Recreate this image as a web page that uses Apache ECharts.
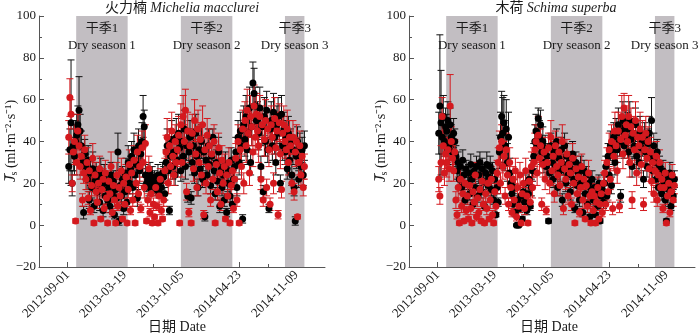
<!DOCTYPE html>
<html>
<head>
<meta charset="utf-8">
<script src="https://cdn.jsdelivr.net/npm/echarts@6/dist/echarts.min.js"></script>
<style>html,body{margin:0;padding:0;background:#fff}#c{width:700px;height:334px}</style>
</head>
<body>
<div id="c"></div>
<script>
// ---- data (x = days since 2012-09-01, one sample every 4 days from day 4) ----
const startDay = 4, stepDays = 4;
const tickDays = [0, 200, 400, 600, 800];
const tickLabels = ['2012-09-01', '2013-03-19', '2013-10-05', '2014-04-23', '2014-11-09'];
const minorTickDays = [100, 300, 500, 700];
const bandStart = [30, 396, 760];
const bandEnd = [210, 576, 828];
const bandCn = ['干季1', '干季2', '干季3'];
const bandEn = ['Dry season 1', 'Dry season 2', 'Dry season 3'];
const panelCn = ['火力楠', '木荷'];
const panelLatin = ['Michelia macclurei', 'Schima superba'];
const xAxisTitle = '日期 Date';

// 火力楠 Michelia macclurei – black series
const leftBlack = [28,36,49,20,38,33,40,
 43,48,55,45,38,30,6,34,
 28,22,31,12,25,18,27,9,21,24,
 16,22,11,25,19,7,23,14,20,12,
 18,9,24,15,21,5,17,13,35,2,
 19,14,22,8,16,25,11,30,20,27,
 33,18,36,24,29,13,38,26,34,40,
 52,47,24,20,22,18,25,21,23,19,
 22,17,20,24,16,21,18,25,23,15,
 30,38,26,7,33,41,28,35,24,42,
 31,44,37,26,40,33,46,28,38,14,
 35,42,13,30,38,25,44,33,18,36,
 27,40,22,35,4,31,24,38,29,19,
 33,42,26,15,30,21,35,9,27,18,
 24,12,29,6,20,26,14,31,10,22,
 28,35,18,42,30,45,38,3,48,41,
 52,36,44,56,30,47,68,63,57,50,
 50,44,56,28,47,16,52,40,55,36,
 8,46,50,38,54,42,30,48,52,44,
 20,53,38,46,35,42,27,44,31,39,
 24,36,18,2,33,40,22,37,28,36,
 24,38];
const leftBlackErr = [8,10,30,6,12,9,10,
 10,9,16,8,7,6,3,7,
 6,5,7,4,6,5,8,3,5,6,
 5,6,4,7,5,3,6,4,5,4,
 5,3,6,4,5,2,5,4,9,2,
 5,4,6,3,5,7,4,8,5,6,
 7,5,8,6,6,4,8,6,7,9,
 10,8,5,4,5,4,5,4,5,4,
 4,3,4,5,3,4,4,5,5,3,
 6,8,5,2,7,9,6,7,5,9,
 6,9,8,5,8,6,9,6,7,3,
 7,8,3,6,8,5,9,7,4,7,
 5,8,4,7,2,6,5,8,6,4,
 6,4,5,3,6,4,7,3,5,4,
 5,3,6,2,4,5,3,6,3,4,
 5,7,4,8,6,9,7,2,9,8,
 10,7,9,10,6,9,10,12,9,8,
 9,8,10,5,9,3,9,7,9,6,
 2,8,9,7,9,8,6,9,9,8,
 4,9,7,8,6,8,5,8,6,7,
 5,7,4,2,6,7,4,7,5,6,
 5,7];
// 火力楠 Michelia macclurei – red series
const leftRed = [42,61,53,20,35,40,2,
 30,45,38,28,33,12,25,36,
 22,30,13,26,7,19,32,1,24,16,
 11,20,27,3,17,22,8,25,13,1,
 21,15,28,6,19,12,1,24,9,18,
 14,26,3,20,10,23,1,17,29,7,
 25,12,31,1,20,35,15,28,8,37,
 30,18,39,2,12,27,6,15,1,10,
 4,18,9,1,14,22,7,3,12,26,
 35,42,20,38,28,45,33,24,40,30,
 36,43,1,48,30,52,40,55,16,45,
 6,38,1,44,27,50,34,18,46,30,
 41,24,48,5,36,20,43,28,38,12,
 34,22,40,1,29,16,37,25,10,31,
 20,28,3,24,14,30,1,19,26,8,
 22,32,12,40,1,36,28,46,20,50,
 38,55,44,25,52,47,35,57,42,53,
 45,38,52,22,48,12,41,50,18,46,
 36,10,48,42,20,51,37,45,5,49,
 34,17,44,48,40,36,46,30,42,38,
 20,42,16,35,40,4,30,38,24,33,
 18,28];
const leftRedErr = [8,9,7,4,6,8,1,
 6,8,7,6,6,3,5,7,
 5,7,3,6,2,5,7,1,6,4,
 3,5,6,1,4,5,2,6,3,1,
 5,4,7,2,5,3,1,6,2,4,
 3,6,1,5,3,6,1,4,7,2,
 6,3,7,1,5,8,4,7,2,8,
 7,5,9,1,3,6,2,4,1,3,
 1,4,2,1,4,5,2,1,3,6,
 8,9,5,8,6,9,7,5,8,7,
 8,9,1,10,7,10,8,10,4,9,
 2,8,1,9,6,10,7,4,9,7,
 8,5,9,2,7,5,8,6,8,3,
 7,5,8,1,6,4,7,6,3,7,
 5,6,1,5,3,7,1,5,6,2,
 5,7,3,8,1,8,6,9,5,9,
 8,10,9,6,10,9,7,10,8,10,
 9,8,10,5,9,3,8,10,4,9,
 8,3,9,8,5,10,8,9,2,9,
 7,4,8,9,8,7,9,6,8,7,
 5,8,4,7,8,1,6,7,5,6,
 4,6];
// 木荷 Schima superba – black series
const rightBlack = [44,57,49,42,52,40,47,
 45,50,38,48,42,35,44,40,
 33,26,30,22,28,18,31,24,12,27,
 20,25,15,29,22,10,26,18,28,14,
 24,30,16,27,21,9,25,29,19,23,
 28,17,26,12,22,5,18,11,35,42,
 52,44,49,38,46,30,42,25,20,15,
 10,18,6,0,12,0,8,14,3,16,
 11,20,7,15,22,9,18,26,33,40,
 45,38,51,42,48,35,40,30,37,28,
 33,2,25,38,30,22,35,28,40,18,
 32,26,36,12,29,38,20,33,24,30,
 16,27,34,22,8,30,19,25,12,28,
 21,6,26,15,24,10,20,4,17,22,
 12,18,5,15,9,20,2,14,17,11,
 20,28,14,33,24,38,19,35,42,30,
 44,36,48,40,14,45,50,38,47,42,
 46,35,50,41,28,44,38,48,33,43,
 30,45,37,40,22,42,35,28,39,44,
 32,50,26,38,30,22,35,18,28,24,
 15,26,20,12,2,22,17,25,9,20,
 14,22];
const rightBlackErr = [10,34,25,8,10,7,9,
 8,9,7,8,6,6,7,6,
 5,4,5,3,4,3,5,4,2,4,
 3,4,3,5,4,2,4,3,5,3,
 4,5,3,5,4,2,4,6,3,4,
 5,3,4,2,4,1,3,2,8,12,
 12,17,13,12,14,9,12,7,5,4,
 3,4,2,0.5,3,0.5,2,3,1,4,
 3,4,2,3,4,2,4,5,6,8,
 8,7,5,8,7,6,7,5,6,5,
 6,1,5,6,5,4,6,5,6,4,
 5,5,6,3,5,6,4,6,4,5,
 4,5,6,4,2,5,4,5,3,5,
 4,2,5,3,4,2,4,1,3,4,
 3,4,1,3,2,4,1,3,4,3,
 4,5,3,6,5,7,4,6,7,6,
 7,6,8,7,3,7,9,6,8,7,
 8,6,9,7,5,7,6,8,6,7,
 5,7,6,7,4,7,6,5,7,8,
 6,11,5,6,5,4,6,3,5,4,
 3,5,4,3,1,4,3,5,2,4,
 3,4];
// 木荷 Schima superba – red series
const rightRed = [22,14,30,52,38,25,34,
 30,36,27,57,40,32,26,35,
 12,5,18,1,22,9,15,2,20,7,
 14,3,19,8,1,16,11,24,4,13,
 6,17,2,21,10,1,15,8,20,3,
 12,22,5,1,16,9,25,30,37,20,
 40,28,33,14,36,24,10,30,18,6,
 22,12,26,4,18,9,24,1,15,20,
 8,26,14,1,21,11,28,18,30,36,
 40,25,43,32,38,10,29,35,22,7,
 30,37,20,42,26,33,15,38,28,24,
 35,19,30,40,8,27,22,34,14,29,
 25,10,32,20,1,27,15,23,6,18,
 28,12,22,3,19,9,25,14,1,16,
 7,14,1,11,18,3,10,15,6,20,
 25,10,30,16,36,22,40,8,33,45,
 38,26,45,9,41,52,34,56,43,48,
 40,52,30,47,12,44,36,50,25,42,
 38,46,29,42,10,36,44,32,40,27,
 35,21,30,15,26,33,12,24,30,18,
 22,8,18,25,1,14,20,6,16,24,
 12,19];
const rightRedErr = [6,4,8,9,7,6,7,
 7,6,6,15,7,6,5,6,
 4,2,5,1,5,3,4,1,5,2,
 4,1,5,3,1,4,3,6,2,4,
 2,5,1,5,3,1,4,3,5,1,
 4,6,2,1,4,3,6,7,8,5,
 8,6,7,4,8,6,3,7,5,2,
 6,4,6,2,5,3,6,1,4,5,
 3,6,4,1,5,3,7,5,7,8,
 8,6,9,7,8,3,6,7,5,2,
 6,7,5,8,6,7,4,7,6,5,
 7,5,6,8,3,6,5,7,4,6,
 6,3,7,5,1,6,4,5,2,5,
 6,4,5,1,5,3,6,4,1,4,
 2,4,1,3,5,1,3,4,2,5,
 6,3,7,4,8,5,8,3,7,9,
 8,6,9,3,8,10,7,7,8,9,
 8,10,7,9,4,8,7,9,6,8,
 7,8,6,8,3,7,8,6,7,6,
 7,5,6,4,6,7,3,5,6,4,
 5,2,4,5,1,4,5,2,4,5,
 3,4];

// ---- chart ----
const SERIF = '"Liberation Serif","Times New Roman","Noto Sans CJK SC",serif';
const TXT = '#1a1a1a';
const BLACK = '#000000', RED = '#d4191e', BAND = '#c2bec2', AXIS = '#555555';
const grids = [
  { left: 39, right: 375, top: 16, bottom: 67 },
  { left: 409, right: 5, top: 16, bottom: 67 }
];
const titleX = [182, 556];
const yNameX = [11, 381];
const xNameX = [177, 549];

function tuples(vals, errs) {
  const out = [];
  const n = Math.min(vals.length, errs.length);
  for (let i = 0; i < n; i++) out.push([startDay + i * stepDays, vals[i], errs[i]]);
  return out;
}
function errBarSeries(idx, data, color) {
  return {
    type: 'custom', xAxisIndex: idx * 2, yAxisIndex: idx, z: 3, silent: true,
    data: data, encode: { x: 0, y: 1 },
    renderItem: function (params, api) {
      const x = api.value(0), y = api.value(1), e = api.value(2);
      const t = api.coord([x, y + e]), b = api.coord([x, y - e]);
      const cw = 3.5;
      const st = { stroke: color, lineWidth: 1 };
      return { type: 'group', children: [
        { type: 'line', shape: { x1: t[0], y1: t[1], x2: b[0], y2: b[1] }, style: st },
        { type: 'line', shape: { x1: t[0] - cw, y1: t[1], x2: t[0] + cw, y2: t[1] }, style: st },
        { type: 'line', shape: { x1: b[0] - cw, y1: b[1], x2: b[0] + cw, y2: b[1] }, style: st }
      ]};
    }
  };
}
function pointSeries(idx, data, color) {
  return {
    type: 'scatter', xAxisIndex: idx * 2, yAxisIndex: idx, z: 4, silent: true,
    data: data.map(d => [d[0], d[1]]), symbol: 'circle', symbolSize: 7,
    itemStyle: { color: color, opacity: 1 }, emphasis: { disabled: true }
  };
}
function bandSeries(idx) {
  return {
    type: 'scatter', xAxisIndex: idx * 2, yAxisIndex: idx, z: 1, data: [], silent: true,
    markArea: {
      silent: true,
      itemStyle: { color: BAND, opacity: 1 },
      label: {
        show: true, position: 'insideTop', distance: 4, color: TXT,
        fontFamily: SERIF, fontSize: 13, lineHeight: 17, align: 'center'
      },
      data: bandStart.map((s, i) => [
        { xAxis: s, yAxis: 100, name: bandCn[i] + '\n' + bandEn[i] },
        { xAxis: bandEnd[i], yAxis: -20 }
      ])
    }
  };
}
const xAxes = [], yAxes = [];
for (let g = 0; g < 2; g++) {
  xAxes.push({
    type: 'value', gridIndex: g, min: -100, max: 900,
    axisLine: { show: true, onZero: false, lineStyle: { color: AXIS, width: 1 } },
    axisTick: { show: true, inside: true, length: 5, customValues: tickDays, lineStyle: { color: AXIS } },
    axisLabel: {
      show: true, customValues: tickDays, rotate: 45, margin: 6,
      fontFamily: SERIF, fontSize: 13, color: TXT,
      formatter: v => tickLabels[tickDays.indexOf(v)] || ''
    },
    splitLine: { show: false }
  });
  xAxes.push({
    type: 'value', gridIndex: g, min: -100, max: 900, position: 'bottom',
    axisLine: { show: false, onZero: false },
    axisTick: { show: true, inside: true, length: 3, customValues: minorTickDays, lineStyle: { color: AXIS } },
    axisLabel: { show: false }, splitLine: { show: false }
  });
  yAxes.push({
    type: 'value', gridIndex: g, min: -20, max: 100, interval: 20,
    axisLine: { show: true, onZero: false, lineStyle: { color: AXIS, width: 1 } },
    axisTick: { show: true, inside: true, length: 5, lineStyle: { color: AXIS } },
    minorTick: { show: true, splitNumber: 2, length: 3, lineStyle: { color: AXIS } },
    axisLabel: { fontFamily: SERIF, fontSize: 13, color: TXT, margin: 3,
      formatter: v => (v < 0 ? '\u2212' + Math.abs(v) : String(v)) },
    splitLine: { show: false }
  });
}
const panels = [
  [tuples(leftBlack, leftBlackErr), tuples(leftRed, leftRedErr)],
  [tuples(rightBlack, rightBlackErr), tuples(rightRed, rightRedErr)]
];
const series = [];
for (let g = 0; g < 2; g++) {
  series.push(bandSeries(g));
  series.push(errBarSeries(g, panels[g][0], '#111111'));
  series.push(pointSeries(g, panels[g][0], BLACK));
  series.push(errBarSeries(g, panels[g][1], RED));
  series.push(pointSeries(g, panels[g][1], RED));
}
const graphics = [];
titleX.forEach((x, i) => graphics.push({
  type: 'text', x: x, y: 8, silent: true,
  style: {
    text: '{c|' + panelCn[i] + '} {l|' + panelLatin[i] + '}',
    align: 'center', verticalAlign: 'middle',
    rich: {
      c: { fontFamily: SERIF, fontSize: 14, fill: TXT },
      l: { fontFamily: SERIF, fontSize: 14, fontStyle: 'italic', fill: TXT }
    }
  }
}));
yNameX.forEach(x => graphics.push({
  type: 'text', x: x, y: 141, rotation: Math.PI / 2, silent: true,
  style: {
    text: '{j|J\u0305}{s|s}{u| (ml·m\u207B\u00B2·s\u207B\u00B9)}',
    align: 'center', verticalAlign: 'middle',
    rich: {
      j: { fontFamily: SERIF, fontStyle: 'italic', fontSize: 15, fill: TXT, lineHeight: 17, verticalAlign: 'middle' },
      s: { fontFamily: SERIF, fontSize: 10, fill: TXT, lineHeight: 17, verticalAlign: 'bottom' },
      u: { fontFamily: SERIF, fontSize: 14, fill: TXT, lineHeight: 17, verticalAlign: 'middle' }
    }
  }
}));
xNameX.forEach(x => graphics.push({
  type: 'text', x: x, y: 327, silent: true,
  style: { text: xAxisTitle, align: 'center', verticalAlign: 'middle',
    fontFamily: SERIF, fontSize: 14, fill: TXT }
}));
const chart = echarts.init(document.getElementById('c'), null, { renderer: 'canvas' });
chart.setOption({
  animation: false,
  backgroundColor: '#ffffff',
  grid: grids.map(g => Object.assign({ outerBoundsMode: 'none', containLabel: false }, g)),
  xAxis: xAxes, yAxis: yAxes, series: series, graphic: graphics, tooltip: { show: false }
});
</script>
</body>
</html>
